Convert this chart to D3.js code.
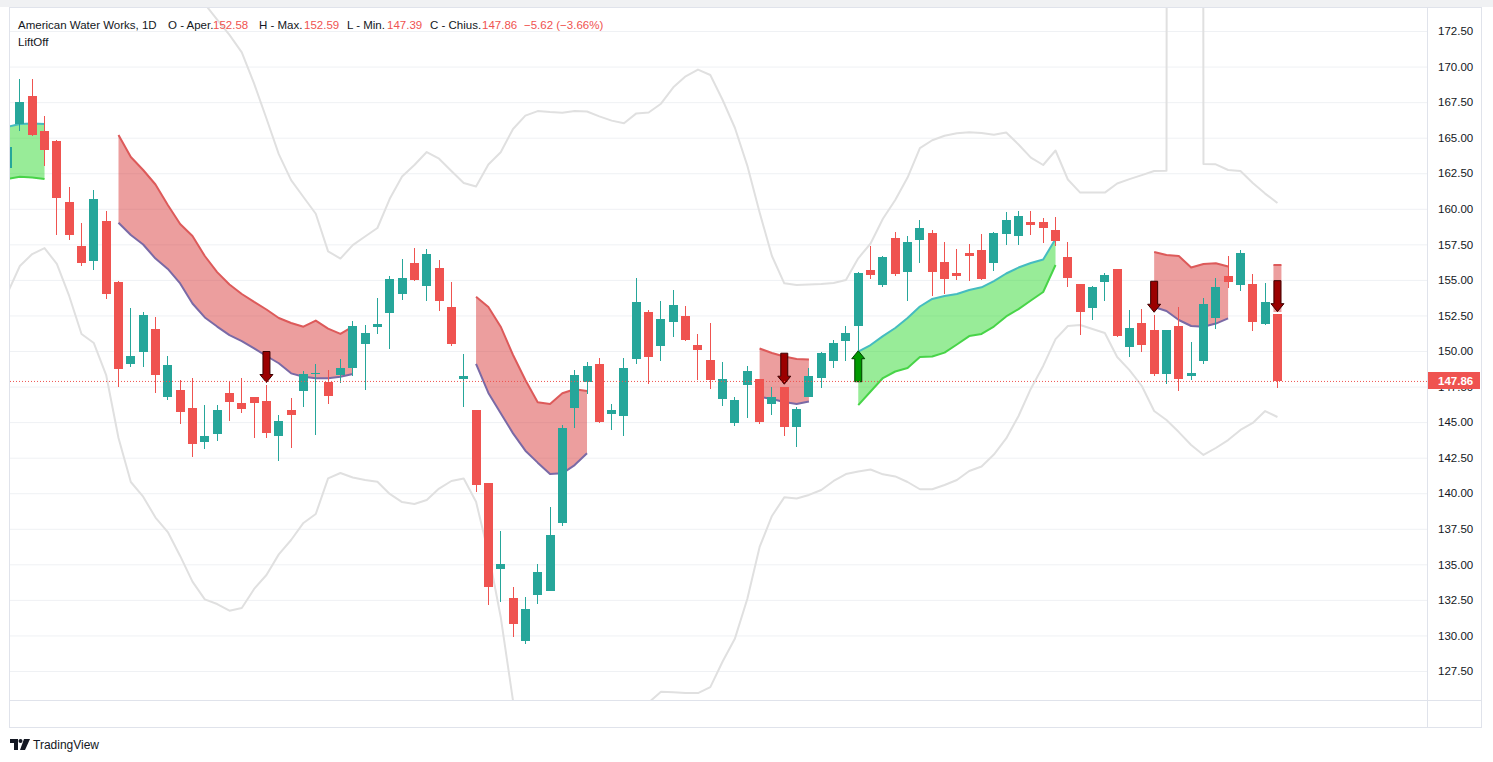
<!DOCTYPE html>
<html><head><meta charset="utf-8">
<script src="https://cdn.jsdelivr.net/npm/d3@7"></script>
<style>
html,body{margin:0;padding:0;background:#fff;}
svg{display:block;font-family:"Liberation Sans",Arial,sans-serif;}
</style></head><body>
<svg id="chart" width="1493" height="762"></svg>
<script>
// ---------- DATA ----------
const dates = ["2022-04-19","2022-04-20","2022-04-21","2022-04-22","2022-04-25","2022-04-26","2022-04-27","2022-04-28","2022-04-29",
"2022-05-02","2022-05-03","2022-05-04","2022-05-05","2022-05-06","2022-05-09","2022-05-10","2022-05-11","2022-05-12","2022-05-13",
"2022-05-16","2022-05-17","2022-05-18","2022-05-19","2022-05-20","2022-05-23","2022-05-24","2022-05-25","2022-05-26","2022-05-27","2022-05-31",
"2022-06-01","2022-06-02","2022-06-03","2022-06-06","2022-06-07","2022-06-08","2022-06-09","2022-06-10","2022-06-13","2022-06-14","2022-06-15",
"2022-06-16","2022-06-17","2022-06-21","2022-06-22","2022-06-23","2022-06-24","2022-06-27","2022-06-28","2022-06-29","2022-06-30",
"2022-07-01","2022-07-05","2022-07-06","2022-07-07","2022-07-08","2022-07-11","2022-07-12","2022-07-13","2022-07-14","2022-07-15",
"2022-07-18","2022-07-19","2022-07-20","2022-07-21","2022-07-22","2022-07-25","2022-07-26","2022-07-27","2022-07-28","2022-07-29",
"2022-08-01","2022-08-02","2022-08-03","2022-08-04","2022-08-05","2022-08-08","2022-08-09","2022-08-10","2022-08-11","2022-08-12",
"2022-08-15","2022-08-16","2022-08-17","2022-08-18","2022-08-19","2022-08-22","2022-08-23","2022-08-24","2022-08-25","2022-08-26",
"2022-08-29","2022-08-30","2022-08-31","2022-09-01","2022-09-02","2022-09-06","2022-09-07","2022-09-08","2022-09-09","2022-09-12",
"2022-09-13","2022-09-14","2022-09-15"];

const openP = [162.85,165.96,167.93,165.47,164.76,160.48,157.38,156.35,159.14,
154.85,149.06,149.95,151.55,146.79,147.26,145.99,143.62,144.19,147.05,
146.34,146.77,146.48,144.02,145.85,147.19,148.38,147.84,148.31,148.83,150.51,
151.71,152.69,154.03,156.19,154.59,155.84,153.09,148.05,145.85,140.72,134.69,
132.63,129.63,132.87,133.15,137.93,146.01,147.84,149.09,145.59,145.45,
149.46,152.74,150.37,152.06,152.46,150.42,149.37,146.65,144.96,147.63,
148.03,146.29,147.47,144.68,146.79,148.12,149.32,150.72,151.78,155.69,
154.66,157.95,155.58,157.83,158.30,156.26,155.48,156.89,157.10,156.21,
158.25,158.11,159.07,159.07,158.51,156.61,154.71,153.04,154.87,155.77,
150.30,151.97,151.48,148.40,151.76,148.26,149.32,152.34,155.27,154.66,
154.71,151.92,152.58];
const highP = [164.90,169.12,169.12,166.52,164.84,161.53,159.00,161.32,159.84,
154.94,153.02,152.74,152.39,149.65,147.96,148.10,146.20,146.20,147.89,
148.10,146.77,147.61,145.50,146.70,148.59,149.09,148.66,149.44,152.11,151.83,
153.73,155.27,156.47,157.24,157.17,156.40,154.85,149.79,145.88,140.75,137.34,
133.41,132.70,135.02,139.03,144.80,148.66,149.25,149.53,146.27,149.53,
155.13,152.88,153.52,154.29,153.16,151.20,151.97,149.23,146.77,148.95,
148.05,147.49,147.49,146.08,148.80,149.93,150.77,151.76,155.58,157.40,
156.68,158.37,158.09,159.21,158.51,157.66,157.17,157.54,158.25,158.37,
159.77,159.84,159.84,159.35,159.42,157.66,154.74,154.57,155.48,155.80,
152.88,152.95,152.55,151.50,153.09,150.63,153.73,155.13,156.68,157.10,
155.41,154.78,152.59];
const lowP = [162.40,165.49,165.12,163.01,158.18,157.80,156.00,155.69,153.66,
147.49,148.90,148.90,147.07,146.55,144.89,142.57,143.13,143.69,145.10,
145.66,143.88,143.88,142.29,143.18,146.06,144.09,146.29,147.75,148.26,147.26,
151.20,150.16,153.61,154.95,153.54,152.83,150.37,146.08,140.09,132.14,132.37,
129.91,129.42,132.23,133.10,137.72,144.61,147.00,144.96,144.47,144.04,
149.11,147.70,149.32,151.01,150.72,147.98,147.35,146.15,144.75,145.31,
144.89,145.52,144.04,143.27,146.75,147.42,148.83,149.32,150.09,155.08,
154.52,155.29,153.54,156.21,153.89,154.03,155.01,154.94,155.01,155.65,
157.47,157.47,158.18,157.61,157.40,154.52,151.15,152.20,153.54,151.01,
149.60,149.95,148.26,147.70,147.21,147.98,149.11,151.57,154.45,154.24,
151.43,151.85,147.39];
const closeP = [164.36,167.49,165.19,164.15,160.78,158.18,156.21,160.69,154.03,
148.76,149.65,152.53,148.33,149.02,145.73,143.48,144.02,145.85,146.44,
145.94,146.34,144.23,145.08,145.50,148.40,148.45,146.86,148.80,151.76,151.27,
151.90,155.06,155.13,154.99,156.82,153.54,150.51,148.24,140.60,133.43,135.02,
130.83,131.86,134.46,137.06,144.61,148.31,148.95,145.03,145.85,148.80,
153.45,149.60,152.25,153.23,150.77,150.09,147.98,148.03,146.55,148.59,
145.03,146.77,144.68,145.92,148.24,149.86,150.56,151.27,155.48,155.36,
156.61,155.43,157.66,158.65,155.58,155.08,155.29,156.70,155.08,158.32,
159.21,159.49,158.88,158.67,157.76,155.15,152.76,154.50,155.34,151.08,
151.62,150.44,148.40,151.48,148.05,148.45,153.30,154.50,154.87,156.89,
152.06,153.48,147.86];

// outer envelope lines (grey)
const upperBand = [null,null,null,null,null,null,null,null,null,
null,null,null,null,null,null,175.30,174.40,173.31,172.23,
171.00,168.80,166.35,163.84,162.02,160.83,159.65,157.01,156.50,157.45,158.05,
158.65,160.70,162.27,163.08,163.99,163.52,162.66,161.81,161.57,163.11,163.98,
165.61,166.55,166.87,166.80,166.75,166.87,166.84,166.50,166.20,166.02,
166.71,166.77,167.39,168.54,169.32,169.79,169.41,167.65,165.68,163.04,
159.74,156.68,154.76,154.64,154.68,154.71,154.78,154.99,156.52,157.56,
159.30,160.62,162.20,164.27,164.82,165.14,165.31,165.38,165.33,165.20,
165.36,164.52,163.60,163.08,164.10,162.06,161.14,161.14,161.14,161.78,
162.09,162.37,162.66,162.68,1000,1000,163.15,163.13,162.73,162.66,
161.81,161.07,160.41];
const lowerBand = [154.08,155.98,156.82,157.24,156.12,153.87,151.20,150.56,148.31,
143.88,140.79,139.76,138.29,137.27,135.59,133.78,132.54,132.21,131.74,
131.93,133.27,134.25,135.70,136.71,137.91,138.54,141.04,141.42,141.11,140.93,
140.81,139.95,139.38,139.24,139.52,140.33,140.86,141.04,139.40,135.80,131.30,
125.40,121.50,119.50,118.50,118.00,118.00,118.50,119.00,120.00,121.50,
123.50,125.28,126.04,126.00,125.95,125.95,126.37,128.17,129.79,132.56,
136.22,138.40,139.71,139.63,139.88,140.23,140.86,141.35,141.53,141.67,
141.33,141.18,140.79,140.28,140.28,140.58,140.93,141.56,141.88,142.72,
143.85,145.43,147.35,148.95,150.84,151.76,151.83,151.55,151.27,149.58,
148.66,147.54,145.78,145.15,144.30,143.39,142.69,143.18,143.74,144.45,
144.94,145.78,145.36];

// LiftOff bearish cloud (upper edge / lower edge)
const redTop = [null,null,null,null,null,null,null,null,null,
165.19,163.64,162.73,161.71,160.27,158.93,158.09,156.68,155.55,154.68,
154.01,153.45,152.92,152.32,151.97,151.71,152.14,151.58,151.20,151.71,null,
null,null,null,null,null,null,null,null,153.82,153.09,151.71,
149.72,147.96,146.39,146.27,147.03,147.31,147.19,null,null,null,
null,null,null,null,null,null,null,null,null,null,
150.18,149.86,149.61,149.44,149.40,null,null,null,null,null,
null,null,null,null,null,null,null,null,null,null,
null,null,null,null,null,null,null,null,null,null,
null,null,156.96,156.75,156.68,155.87,156.12,156.17,155.94,null,
null,null,156.05];
const redBottom = [null,null,null,null,null,null,null,null,null,
159.02,158.16,157.49,156.50,155.77,154.75,153.34,152.36,151.72,151.12,
150.70,150.19,149.65,149.14,148.43,148.19,148.08,148.08,148.19,148.38,null,
null,null,null,null,null,null,null,null,149.09,147.05,145.62,
144.21,142.99,142.15,141.35,141.40,141.98,142.81,null,null,null,
null,null,null,null,null,null,null,null,null,null,
146.77,146.63,146.41,146.27,146.45,null,null,null,null,null,
null,null,null,null,null,null,null,null,null,null,
null,null,null,null,null,null,null,null,null,null,
null,null,153.09,152.81,152.18,151.76,151.71,151.93,152.30,null,
null,null,152.74];
// LiftOff bullish cloud
const greenTop = [165.77,165.96,166.00,165.96,null,null,null,null,null,
null,null,null,null,null,null,null,null,null,null,
null,null,null,null,null,null,null,null,null,null,null,
null,null,null,null,null,null,null,null,null,null,null,
null,null,null,null,null,null,null,null,null,null,
null,null,null,null,null,null,null,null,null,null,
null,null,null,null,null,null,null,null,149.95,150.42,
151.05,151.62,152.32,153.13,153.66,153.87,154.01,154.29,154.48,154.92,
155.45,155.87,156.19,156.43,157.88,null,null,null,null,null,
null,null,null,null,null,null,null,null,null,null,
null,null,null];
const greenBottom = [162.09,162.26,162.20,162.09,null,null,null,null,null,
null,null,null,null,null,null,null,null,null,null,
null,null,null,null,null,null,null,null,null,null,null,
null,null,null,null,null,null,null,null,null,null,null,
null,null,null,null,null,null,null,null,null,null,
null,null,null,null,null,null,null,null,null,null,
null,null,null,null,null,null,null,null,146.20,147.15,
148.10,148.56,148.80,149.58,149.61,149.89,150.46,151.05,151.20,151.72,
152.43,152.95,153.55,154.15,156.05,null,null,null,null,null,
null,null,null,null,null,null,null,null,null,null,
null,null,null];

const sellSignals = ["2022-05-18","2022-07-20","2022-08-31","2022-09-15"];
const buySignals = ["2022-07-28"];

const yTicks = [127.5,130,132.5,135,137.5,140,142.5,145,147.5,150,152.5,155,157.5,160,162.5,165,167.5,170,172.5];
const xTickBar = [9,16,23,30,37,44,51,58,71,78,85,94,101,108,115]; // bar offsets (future bars included)
const xTickLabels = ["Maggio","11","20","Giu","10","22","Lug","13","Ago","10","19","Set","13","22","Ott"];

const symbolTitle = "American Water Works, 1D";
const legendLabels = ["O - Aper.","H - Max.","L - Min.","C - Chius."];
const legendValues = ["152.58","152.59","147.39","147.86"];
const changeText = "\u22125.62 (\u22123.66%)";
const indicatorName = "LiftOff";
const lastPrice = 147.86;

// ---------- LAYOUT ----------
const W=1493,H=762;
const L=10,R=1427,T=8,B=700;
const UP="#26a69a",DOWN="#ef5350",TXT="#131722",GRID="#eff1f4",BAND="#e0e0e0";
const n = dates.length;
const svg = d3.select("#chart");
const x = d3.scaleLinear().domain([0.2,115.13]).range([L,R]);
const y = d3.scaleLinear().domain([125.46,174.12]).range([B,T]);

const defs = svg.append("defs");
defs.append("clipPath").attr("id","plotClip").append("rect")
  .attr("x",L).attr("y",T).attr("width",R-L).attr("height",B-T);
defs.append("clipPath").attr("id","xAxisClip").append("rect")
  .attr("x",L).attr("y",B).attr("width",R-L).attr("height",28);

// frame
svg.append("rect").attr("x",0).attr("y",0).attr("width",W).attr("height",7).attr("fill","#f0f1f3");
svg.append("rect").attr("x",9.5).attr("y",7.5).attr("width",1472).attr("height",720)
  .attr("fill","#fff").attr("stroke","#e0e3eb");

// grid via axes
const gridY = svg.append("g").attr("transform",`translate(${L},0)`)
  .call(d3.axisLeft(y).tickValues(yTicks).tickSize(-(R-L)).tickFormat(""));
gridY.select(".domain").remove();
gridY.selectAll("line").attr("stroke",GRID);
const gridX = svg.append("g").attr("transform",`translate(0,${B})`).attr("clip-path","url(#plotClip)")
  .call(d3.axisBottom(x).tickValues(xTickBar).tickSize(-(B-T)).tickFormat(""));
gridX.select(".domain").remove();
gridX.selectAll("line").attr("stroke",GRID);

const plot = svg.append("g").attr("clip-path","url(#plotClip)");

// grey envelope
const bandLine = arr => d3.line().defined((d,i)=>arr[i]!=null)
  .x((d,i)=>x(i)).y((d,i)=>y(arr[i]))(arr);
[upperBand,lowerBand].forEach(a=>{
  plot.append("path").attr("d",bandLine(a)).attr("fill","none")
    .attr("stroke",BAND).attr("stroke-width",2).attr("stroke-linejoin","round");
});

// clouds
function drawCloud(top,bot,fill,topCol,botCol){
  const def=(d,i)=>top[i]!=null&&bot[i]!=null;
  const area=d3.area().defined(def).x((d,i)=>x(i)).y0((d,i)=>y(bot[i])).y1((d,i)=>y(top[i]));
  plot.append("path").attr("d",area(top)).attr("fill",fill);
  top.forEach((v,i)=>{
    if(def(v,i) && !(i>0&&def(top[i-1],i-1)) && !(i<n-1&&def(top[i+1],i+1))){
      plot.append("rect").attr("x",x(i)-4).attr("width",8).attr("y",y(top[i]))
        .attr("height",y(bot[i])-y(top[i])).attr("fill",fill);
      plot.append("line").attr("x1",x(i)-4).attr("x2",x(i)+4).attr("y1",y(top[i])).attr("y2",y(top[i]))
        .attr("stroke",topCol).attr("stroke-width",2);
    }
  });
  const ln=arr=>d3.line().defined(def).x((d,i)=>x(i)).y((d,i)=>y(arr[i]))(arr);
  plot.append("path").attr("d",ln(top)).attr("fill","none").attr("stroke",topCol).attr("stroke-width",2).attr("stroke-linejoin","round");
  plot.append("path").attr("d",ln(bot)).attr("fill","none").attr("stroke",botCol).attr("stroke-width",2).attr("stroke-linejoin","round");
}
drawCloud(redTop,redBottom,"rgba(214,48,48,0.47)","#dd5a5a","#7a6aa6");
drawCloud(greenTop,greenBottom,"rgba(40,215,40,0.48)","#45bcc0","#48d448");

// candles
const cg = plot.append("g");
dates.forEach((d,i)=>{
  const up = closeP[i]>=openP[i];
  const col = up?UP:DOWN;
  const bx = Math.round(x(i)-4.5);
  cg.append("line").attr("x1",bx+4.5).attr("x2",bx+4.5)
    .attr("y1",Math.round(y(highP[i]))).attr("y2",Math.round(y(lowP[i])))
    .attr("stroke",col).attr("stroke-width",1);
  const yt=Math.round(y(Math.max(openP[i],closeP[i]))), yb=Math.round(y(Math.min(openP[i],closeP[i])));
  cg.append("rect").attr("x",bx).attr("width",9).attr("y",yt).attr("height",Math.max(1,yb-yt)).attr("fill",col);
});

// signal arrows
const ag = plot.append("g");
function arrow(cx,tip,dir,fill,stroke){
  const len=31, head=8, sw=3.5, hw=6.5;
  const b=tip-dir*len, h=tip-dir*head;
  const p=`M${cx-sw},${b}L${cx+sw},${b}L${cx+sw},${h}L${cx+hw},${h}L${cx},${tip}L${cx-hw},${h}L${cx-sw},${h}Z`;
  ag.append("path").attr("d",p).attr("fill",fill).attr("stroke",stroke).attr("stroke-width",1);
}
sellSignals.forEach(s=>{const i=dates.indexOf(s); arrow(x(i),y(highP[i])-2.5,1,"#9b0000","#3d0000");});
buySignals.forEach(s=>{const i=dates.indexOf(s); arrow(x(i),y(lowP[i])+1,-1,"#009a00","#003f00");});

// last price line
plot.append("line").attr("x1",L).attr("x2",R).attr("y1",y(lastPrice)).attr("y2",y(lastPrice))
  .attr("stroke",DOWN).attr("stroke-width",1).attr("stroke-dasharray","1,2");

// axes separators
svg.append("line").attr("x1",9.5).attr("x2",1481.5).attr("y1",B+0.5).attr("y2",B+0.5).attr("stroke","#e0e3eb");
svg.append("line").attr("x1",R+0.5).attr("x2",R+0.5).attr("y1",7.5).attr("y2",727.5).attr("stroke","#e0e3eb");

// y axis
const ya = svg.append("g").attr("transform",`translate(${R},0)`)
  .call(d3.axisRight(y).tickValues(yTicks).tickSize(0).tickPadding(11).tickFormat(d3.format(".2f")));
ya.select(".domain").remove();
ya.selectAll("text").attr("fill",TXT).attr("font-size","11.5px").attr("font-family","'Liberation Sans',Arial,sans-serif");

// price tag (covers the 147.50 label, as in the original)
const py=y(lastPrice);
svg.append("rect").attr("x",R+1).attr("y",Math.round(py)-9).attr("width",52).attr("height",17).attr("fill",DOWN);
svg.append("text").attr("x",R+11).attr("y",py).attr("dy","0.35em").attr("fill","#fff")
  .attr("font-size","11.5px").attr("font-weight","bold").text(d3.format(".2f")(lastPrice));

// x axis
const xa = svg.append("g").attr("transform",`translate(0,${B})`).attr("clip-path","url(#xAxisClip)")
  .call(d3.axisBottom(x).tickValues(xTickBar).tickSize(0).tickPadding(9).tickFormat((d,i)=>xTickLabels[i]));
xa.select(".domain").remove();
xa.selectAll("text").attr("fill",TXT).attr("font-size","11.5px").attr("font-family","'Liberation Sans',Arial,sans-serif");

// legend header
const hg = svg.append("g").attr("font-size","11.5px").attr("fill",TXT);
hg.append("text").attr("x",18).attr("y",29).text(symbolTitle);
const labX=[168,259,347,430], valX=[213,304,387,482];
legendLabels.forEach((lab,i)=>{
  hg.append("text").attr("x",labX[i]).attr("y",29).text(lab);
  hg.append("text").attr("x",valX[i]).attr("y",29).attr("fill",DOWN).text(legendValues[i]);
});
hg.append("text").attr("x",524).attr("y",29).attr("fill",DOWN).text(changeText);
hg.append("text").attr("x",18).attr("y",46).text(indicatorName);

// TradingView logo
const lg = svg.append("g").attr("fill",TXT);
lg.append("path").attr("d","M10,739h8v11h-4v-7h-4z");
lg.append("circle").attr("cx",20.5).attr("cy",741).attr("r",2);
lg.append("path").attr("d","M24,739h6l-5,11h-5z");
lg.append("text").attr("x",33).attr("y",749).attr("font-size","12px").text("TradingView");
</script>
</body></html>
